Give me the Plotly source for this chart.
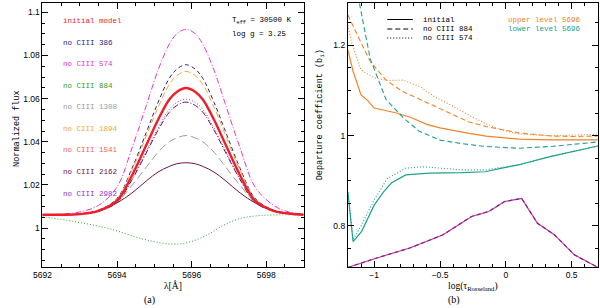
import plotly.graph_objects as go
from plotly.subplots import make_subplots

W, H = 600, 308

# ---------------- Panel (a): line profiles ----------------
wave = [5692, 5692.5, 5693, 5693.5, 5694, 5694.4, 5694.8, 5695.1, 5695.4, 5695.6,
        5695.85, 5696.1, 5696.3, 5696.6, 5696.9, 5697.3, 5697.7, 5698.2, 5698.6, 5699]
flux_initial = [1.0062, 1.0062, 1.0065, 1.0080, 1.0127, 1.0244, 1.0391, 1.0502, 1.0596, 1.0631,
                1.0649, 1.0631, 1.0596, 1.0502, 1.0391, 1.0244, 1.0127, 1.0080, 1.0068, 1.0062]
flux_386 = [1.0062, 1.0062, 1.0065, 1.0083, 1.0138, 1.0277, 1.0451, 1.0583, 1.0694, 1.0736,
            1.0757, 1.0736, 1.0694, 1.0583, 1.0451, 1.0277, 1.0138, 1.0083, 1.0069, 1.0062]
flux_574 = [1.0062, 1.0065, 1.0075, 1.0105, 1.0191, 1.0371, 1.0577, 1.0732, 1.0852, 1.0900,
            1.0921, 1.0900, 1.0852, 1.0732, 1.0577, 1.0371, 1.0191, 1.0105, 1.0075, 1.0065]
flux_1308 = [1.0062, 1.0062, 1.0066, 1.0080, 1.0121, 1.0198, 1.0286, 1.0352, 1.0400, 1.0418,
             1.0429, 1.0418, 1.0400, 1.0352, 1.0286, 1.0198, 1.0121, 1.0080, 1.0067, 1.0062]
flux_1894 = [1.0062, 1.0062, 1.0065, 1.0082, 1.0135, 1.0268, 1.0434, 1.0560, 1.0666, 1.0706,
             1.0726, 1.0706, 1.0666, 1.0560, 1.0434, 1.0268, 1.0135, 1.0082, 1.0069, 1.0062]
flux_1541 = [1.0062, 1.0062, 1.0065, 1.0078, 1.0119, 1.0224, 1.0354, 1.0454, 1.0537, 1.0568,
             1.0584, 1.0568, 1.0537, 1.0454, 1.0354, 1.0224, 1.0119, 1.0078, 1.0067, 1.0062]
flux_2162 = [1.0062, 1.0063, 1.0066, 1.0081, 1.0117, 1.0163, 1.0221, 1.0260, 1.0286, 1.0298,
             1.0303, 1.0298, 1.0286, 1.0260, 1.0221, 1.0163, 1.0117, 1.0081, 1.0069, 1.0064]
flux_2982 = [1.0062, 1.0062, 1.0065, 1.0078, 1.0121, 1.0228, 1.0362, 1.0464, 1.0550, 1.0582,
             1.0598, 1.0582, 1.0550, 1.0464, 1.0362, 1.0228, 1.0121, 1.0078, 1.0067, 1.0062]
wave_884 = [5692, 5692.87, 5693.76, 5694.64, 5695.17, 5695.57, 5695.97, 5696.41, 5696.86,
            5697.3, 5697.74, 5698.19, 5699]
flux_884 = [1.0053, 1.0030, 0.9999, 0.9952, 0.9932, 0.9926, 0.9937, 0.9968, 1.0014,
            1.0045, 1.0057, 1.0061, 1.0063]

# ---------------- Panel (b): departure coefficients ----------------
tau_up_init = [-1.2, -1.16, -1.1, -1.05, -1.0, -0.9, -0.83, -0.72, -0.6, -0.5, -0.4, -0.28,
               -0.15, 0.0, 0.1, 0.35, 0.7]
b_up_init = [1.19, 1.142, 1.09, 1.078, 1.061, 1.054, 1.05, 1.04, 1.025, 1.017, 1.011, 1.005,
             0.999, 0.994, 0.992, 0.9905, 0.9905]
tau_up_884 = [-1.2, -1.135, -1.03, -0.91, -0.78, -0.65, -0.535, -0.4, -0.28, -0.15, -0.03,
              0.1, 0.215, 0.35, 0.5, 0.7]
b_up_884 = [1.267, 1.227, 1.164, 1.123, 1.097, 1.08, 1.064, 1.045, 1.03, 1.02, 1.013,
            1.006, 1.003, 0.999, 0.998, 0.999]
tau_up_574 = [-1.2, -1.17, -1.1, -1.0, -0.9, -0.78, -0.65, -0.535, -0.407, -0.28, -0.157,
              -0.03, 0.093, 0.343, 0.7]
b_up_574 = [1.245, 1.205, 1.145, 1.128, 1.122, 1.123, 1.108, 1.085, 1.066, 1.045, 1.027,
            1.012, 1.004, 0.9995, 1.003]
tau_lo_init = [-1.2, -1.16, -1.095, -1.0, -0.93, -0.87, -0.76, -0.58, -0.33, -0.157, -0.03,
               0.093, 0.343, 0.7]
b_lo_init = [0.875, 0.765, 0.788, 0.846, 0.875, 0.895, 0.913, 0.917, 0.918, 0.920, 0.928,
             0.935, 0.954, 0.977]
tau_lo_884 = [-1.2, -1.11, -1.03, -0.91, -0.78, -0.66, -0.5, -0.33, -0.157, 0.093, 0.343, 0.7]
b_lo_884 = [1.45, 1.29, 1.17, 1.08, 1.04, 1.01, 0.99, 0.982, 0.976, 0.972, 0.976, 0.986]
tau_lo_574 = [-1.2, -1.16, -1.1, -1.0, -0.9, -0.76, -0.63, -0.48, -0.33, -0.157, -0.03,
              0.093, 0.343, 0.7]
b_lo_574 = [0.875, 0.77, 0.80, 0.858, 0.905, 0.928, 0.931, 0.928, 0.924, 0.924, 0.929,
            0.935, 0.954, 0.977]
tau_mag = [-1.2, -0.98, -0.73, -0.48, -0.26, -0.13, -0.01, 0.12, 0.24, 0.37, 0.52, 0.7]
b_mag = [0.708, 0.729, 0.751, 0.78, 0.821, 0.832, 0.854, 0.861, 0.806, 0.78, 0.736, 0.708]

labels_a = ["initial model", "no CIII 386", "no CIII 574", "no CIII 884", "no CIII 1308",
            "no CIII 1894", "no CIII 1541", "no CIII 2162", "no CIII 2982"]

C_RED = "#f01e28"
C_NAVY = "#23238f"
C_MAG = "#e432e4"
C_GREEN = "#2e9e2e"
C_GRAY = "#9a9a9a"
C_ORA = "#f5a53c"
C_SAL = "#f2605e"
C_MAR = "#6e1446"
C_PUR = "#9632d2"
C_OR2 = "#f0822a"
C_TEAL = "#20a08e"

DOT = "1px,2px"
DASH = "4px,3px"
LDASH = "6px,3px"
DDOT = "6px,2px,1px,2px"

fig = make_subplots(rows=1, cols=2)

def px(x):
    return x / W

def py(y):
    return 1 - y / H

# panel a traces (draw order: thin first, red thick on top)
fig.add_trace(go.Scatter(x=wave_884, y=flux_884, mode="lines", line=dict(color=C_GREEN, width=1, dash=DOT, shape="spline")), 1, 1)
fig.add_trace(go.Scatter(x=wave, y=flux_574, mode="lines", line=dict(color=C_MAG, width=1, dash=DDOT, shape="spline")), 1, 1)
fig.add_trace(go.Scatter(x=wave, y=flux_386, mode="lines", line=dict(color=C_NAVY, width=1, dash=DASH, shape="spline")), 1, 1)
fig.add_trace(go.Scatter(x=wave, y=flux_1894, mode="lines", line=dict(color=C_ORA, width=1, dash=LDASH, shape="spline")), 1, 1)
fig.add_trace(go.Scatter(x=wave, y=flux_2982, mode="lines", line=dict(color=C_PUR, width=1, dash=DOT, shape="spline")), 1, 1)
fig.add_trace(go.Scatter(x=wave, y=flux_1541, mode="lines", line=dict(color=C_MAR, width=1, dash=DDOT, shape="spline")), 1, 1)
fig.add_trace(go.Scatter(x=wave, y=flux_1308, mode="lines", line=dict(color=C_GRAY, width=1, dash="8px,4px", shape="spline")), 1, 1)
fig.add_trace(go.Scatter(x=wave, y=flux_2162, mode="lines", line=dict(color=C_MAR, width=1, shape="spline")), 1, 1)
fig.add_trace(go.Scatter(x=wave, y=flux_initial, mode="lines", line=dict(color=C_RED, width=2.4, shape="spline")), 1, 1)

# panel b traces
fig.add_trace(go.Scatter(x=tau_mag, y=b_mag, mode="lines", line=dict(color="#d42eb4", width=1.2)), 1, 2)
fig.add_trace(go.Scatter(x=tau_mag, y=b_mag, mode="lines", line=dict(color="#7a2a78", width=1.2, dash=DASH)), 1, 2)
fig.add_trace(go.Scatter(x=tau_up_init, y=b_up_init, mode="lines", line=dict(color=C_OR2, width=1.2)), 1, 2)
fig.add_trace(go.Scatter(x=tau_up_884, y=b_up_884, mode="lines", line=dict(color=C_OR2, width=1.1, dash="5px,3px")), 1, 2)
fig.add_trace(go.Scatter(x=tau_up_574, y=b_up_574, mode="lines", line=dict(color=C_OR2, width=1.1, dash=DOT)), 1, 2)
fig.add_trace(go.Scatter(x=tau_lo_init, y=b_lo_init, mode="lines", line=dict(color=C_TEAL, width=1.2)), 1, 2)
fig.add_trace(go.Scatter(x=tau_lo_884, y=b_lo_884, mode="lines", line=dict(color=C_TEAL, width=1.1, dash="5px,3px")), 1, 2)
fig.add_trace(go.Scatter(x=tau_lo_574, y=b_lo_574, mode="lines", line=dict(color=C_TEAL, width=1.1, dash=DOT)), 1, 2)

ydom = [py(267), py(3)]
tickfont = dict(family="Liberation Sans", size=8.5, color="black")
common = dict(showgrid=False, zeroline=False, showline=True, linecolor="black", linewidth=1,
              mirror="allticks", ticks="inside", ticklen=6, tickcolor="black", tickwidth=1,
              tickfont=tickfont)
minor_common = dict(ticks="inside", ticklen=3, tickcolor="black", showgrid=False)

fig.update_xaxes(domain=[px(34), px(299)], range=[5692, 5699], tick0=5692, dtick=2,
                 minor=dict(dtick=0.5, **minor_common), **common, row=1, col=1)
fig.update_yaxes(domain=ydom, range=[0.982, 1.1043], tick0=1, dtick=0.02,
                 minor=dict(dtick=0.005, **minor_common), **common, row=1, col=1)
fig.update_xaxes(domain=[px(344), px(598)], range=[-1.2, 0.7], tick0=0, dtick=0.5,
                 minor=dict(dtick=0.1, **minor_common), **common, row=1, col=2)
fig.update_yaxes(domain=ydom, range=[0.709, 1.2937], tick0=0.8, dtick=0.2,
                 minor=dict(dtick=0.05, **minor_common), **common, row=1, col=2)

ann = []
mono = "Liberation Mono"
lab_cols = [C_RED, C_NAVY, C_MAG, C_GREEN, C_GRAY, C_ORA, C_SAL, C_MAR, C_PUR]
lab_y = [21, 43, 64, 86, 107, 129, 150, 172, 194]
for t, c, yy in zip(labels_a, lab_cols, lab_y):
    ann.append(dict(x=px(53), y=py(yy), text=t, font=dict(family=mono, size=7.5, color=c)))
ann.append(dict(x=px(224), y=py(21), text="T<sub>eff</sub> = 30500 K", font=dict(family=mono, size=7.5, color="black")))
ann.append(dict(x=px(224), y=py(34), text="log g = 3.25", font=dict(family=mono, size=7.5, color="black")))
# panel b legend text
for t, yy in zip(["initial", "no CIII 884", "no CIII 574"], [19.5, 29, 38]):
    ann.append(dict(x=px(418), y=py(yy), text=t, font=dict(family=mono, size=7.5, color="black")))
ann.append(dict(x=px(505), y=py(19.5), text="upper level 5696", font=dict(family=mono, size=7.5, color=C_OR2)))
ann.append(dict(x=px(505), y=py(29), text="lower level 5696", font=dict(family=mono, size=7.5, color=C_TEAL)))
for a in ann:
    a.update(xref="paper", yref="paper", xanchor="left", yanchor="middle", showarrow=False)

# axis titles and captions
extra = [
    dict(x=px(167), y=py(285), text="λ[Å]", font=dict(family="Liberation Serif", size=9.5, color="black")),
    dict(x=px(471), y=py(286), text="log(τ<sub>Rosseland</sub>)", font=dict(family="Liberation Serif", size=9.5, color="black")),
    dict(x=px(143), y=py(300), text="(a)", font=dict(family="Liberation Serif", size=10, color="black")),
    dict(x=px(452), y=py(300), text="(b)", font=dict(family="Liberation Serif", size=10, color="black")),
    dict(x=px(8), y=py(128), text="Normalized flux", textangle=-90, font=dict(family=mono, size=8.5, color="black")),
    dict(x=px(316), y=py(115), text="Departure coefficient (b<sub>i</sub>)", textangle=-90, font=dict(family=mono, size=8.5, color="black")),
]
for a in extra:
    a.update(xref="paper", yref="paper", xanchor="center", yanchor="middle", showarrow=False)

shapes = []
for dsh, yy in zip(["solid", "5px,3px", DOT], [19.5, 29, 38]):
    shapes.append(dict(type="line", xref="paper", yref="paper", x0=px(384), x1=px(410),
                       y0=py(yy), y1=py(yy), line=dict(color="black", width=1, dash=dsh)))

fig.update_layout(width=W, height=H, margin=dict(l=0, r=0, t=0, b=0),
                  paper_bgcolor="white", plot_bgcolor="white", showlegend=False,
                  annotations=ann + extra, shapes=shapes)

fig.write_html("out.html", config={"displayModeBar": False},
               post_script="document.body.style.margin='0';document.body.style.overflow='hidden';")
